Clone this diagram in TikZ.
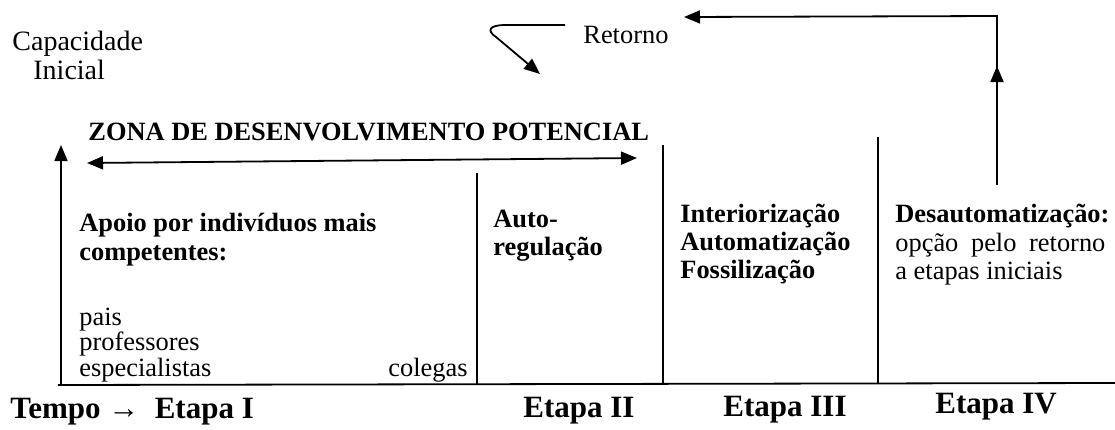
\documentclass[tikz,border=0pt]{standalone}
\usepackage{fontspec}
\setmainfont{Liberation Serif}
\usetikzlibrary{arrows.meta}

\begin{document}
\begin{tikzpicture}[x=0.5pt,y=-0.5pt,
        txt/.style={anchor=base west,inner sep=0pt,font=\fontsize{13.2}{16}\selectfont},
        btxt/.style={txt,font=\fontsize{13.2}{16}\selectfont\bfseries},
        etapa/.style={txt,font=\fontsize{15.5}{18}\selectfont\bfseries},
        seta/.style={-{Triangle[length=8pt,width=6.5pt]},line width=0.9pt},
        linha/.style={line width=0.9pt}]
    \useasboundingbox (0,0) rectangle (1115,429);

    % pontos do eixo e das divisorias
    \coordinate (o) at (58,385);
    \coordinate (fim) at (1115,383);
    \coordinate (ob) at (61,385);
    \coordinate (ot) at (61,145);
    \coordinate (d1t) at (477,173);
    \coordinate (d1b) at (477,385);
    \coordinate (d2t) at (663,145);
    \coordinate (d2b) at (663,384);
    \coordinate (d3t) at (878,137);
    \coordinate (d3b) at (878,384);
    \coordinate (zl) at (87,163);
    \coordinate (zr) at (637,158);
    \coordinate (rb) at (997,185);
    \coordinate (rm) at (997,66);
    \coordinate (rn) at (997,78);
    \coordinate (rc) at (997,16);
    \coordinate (rl) at (684,17);
    \coordinate (ca) at (565,25);
    \coordinate (cb) at (540,74);

    \draw[linha] (o) -- (fim);
    \draw[seta] (ob) -- (ot);
    \draw[linha] (d1t) -- (d1b);
    \draw[linha] (d2t) -- (d2b);
    \draw[linha] (d3t) -- (d3b);
    \draw[{Triangle[length=8pt,width=6.5pt]}-{Triangle[length=8pt,width=6.5pt]},line width=0.9pt] (zl) -- (zr);

    % retorno
    \draw[seta] (rb) -- (rm);
    \draw[seta] (rn) -- (rc) -- (rl);
    \draw[seta] (ca) -- (506,25) .. controls (488,25) and (487,31) .. (496,37) -- (cb);

    \node[txt,font=\fontsize{14}{16}\selectfont] (cap) at (12,50) {Capacidade};
    \node[txt,font=\fontsize{14}{16}\selectfont] (ini) at (33,79) {Inicial};
    \node[txt] (ret) at (583,43) {Retorno};
    \node[btxt] (zdp) at (88,140) {ZONA DE DESENVOLVIMENTO POTENCIAL};

    % etapa I
    \node[btxt] (ap1) at (79,231) {Apoio por indivíduos mais};
    \node[btxt] (ap2) at (79,260) {competentes:};
    \node[txt] (pais) at (79,325) {pais};
    \node[txt] (prof) at (79,350) {professores};
    \node[txt] (esp) at (79,376) {especialistas};
    \node[txt] (col) at (388,376) {colegas};

    % etapa II
    \node[btxt] (au1) at (493,227) {Auto-};
    \node[btxt] (au2) at (493,255) {regulação};

    % etapa III
    \node[btxt] (int) at (680,222) {Interiorização};
    \node[btxt] (aut) at (680,250) {Automatização};
    \node[btxt] (fos) at (680,278) {Fossilização};

    % etapa IV
    \node[btxt] (des) at (895,222) {Desautomatização:};
    \node[txt] (opc) at (895,251) {\makebox[105pt][s]{opção pelo retorno}};
    \node[txt] (aet) at (895,279) {a etapas iniciais};

    \node[etapa] (e1) at (10,418) {Tempo → \ Etapa I};
    \node[etapa] (e2) at (523,417) {Etapa II};
    \node[etapa] (e3) at (723,416) {Etapa III};
    \node[etapa] (e4) at (935,413) {Etapa IV};
\end{tikzpicture}
\end{document}
